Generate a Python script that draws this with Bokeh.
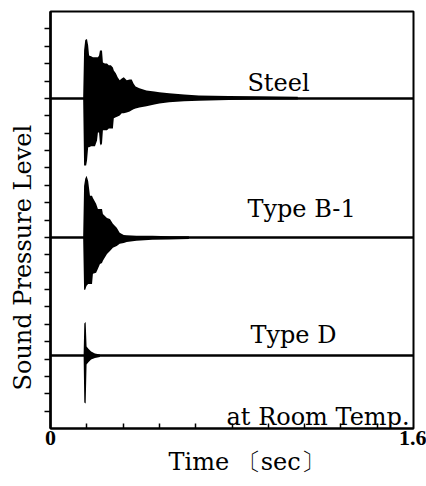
from bokeh.plotting import figure
from bokeh.models import Range1d, FixedTicker, Label, Title
from bokeh.embed import file_html
from bokeh.resources import INLINE

# ---------------- data ----------------
x_start, x_end = 0.0, 1.6
y_start, y_end = 0.0, 24.0
x_tick_values = [0.0, 1.6]
x_tick_labels = ["0", "1.6"]
x_minor_ticks = [0.16, 0.32, 0.48, 0.64, 0.80, 0.96, 1.12, 1.28, 1.44]
y_ticks = [1, 2, 3, 4, 5, 6, 7, 8, 9, 10, 11, 12, 13, 14, 15, 16, 17, 18, 19, 20, 21, 22, 23]

series_names = ["Steel", "Type B-1", "Type D"]
note_text = "at Room Temp."
x_title = "Time 〔sec〕"
y_title = "Sound Pressure Level"

# Steel : envelope of the recorded pressure (time in sec, amplitude in tick units)
steel_t = [0.144, 0.148, 0.153, 0.157, 0.161, 0.166, 0.170, 0.179, 0.187, 0.196,
           0.205, 0.209, 0.214, 0.218, 0.222, 0.227, 0.231, 0.240, 0.249, 0.257,
           0.266, 0.275, 0.279, 0.288, 0.296, 0.305, 0.314, 0.323, 0.336, 0.349,
           0.358, 0.366, 0.375, 0.392, 0.423, 0.458, 0.480, 0.523, 0.589, 0.654,
           0.785, 0.915, 1.090]
steel_upper = [0.06, 2.76, 3.34, 3.40, 3.40, 3.05, 2.47, 2.42, 2.36, 2.36,
               2.36, 2.36, 2.47, 2.76, 2.76, 2.76, 2.07, 2.01, 2.01, 1.90,
               1.90, 1.78, 1.61, 1.44, 1.21, 1.04, 1.15, 1.21, 1.04, 1.09,
               1.09, 0.86, 0.69, 0.58, 0.46, 0.40, 0.35, 0.29, 0.23, 0.17,
               0.14, 0.12, 0.09]
steel_lower = [-0.06, -3.86, -3.86, -3.86, -3.57, -2.82, -2.82, -2.76, -2.76, -2.76,
               -2.42, -1.96, -1.96, -2.59, -2.71, -2.59, -1.84, -1.84, -1.84, -1.73,
               -1.73, -1.73, -1.15, -1.09, -1.04, -0.98, -0.86, -0.86, -0.81, -0.75,
               -0.69, -0.63, -0.58, -0.52, -0.46, -0.35, -0.29, -0.23, -0.17, -0.14,
               -0.09, -0.06, -0.06]

# Type B-1
b1_t = [0.144, 0.148, 0.153, 0.159, 0.166, 0.174, 0.183, 0.187, 0.201, 0.209,
        0.218, 0.227, 0.231, 0.249, 0.262, 0.275, 0.292, 0.305, 0.323, 0.336,
        0.379, 0.449, 0.523, 0.610]
b1_upper = [0.06, 2.96, 3.37, 3.54, 3.25, 2.39, 2.39, 2.27, 1.93, 1.64,
            1.64, 1.64, 1.35, 1.12, 1.06, 0.78, 0.55, 0.26, 0.14, 0.12,
            0.09, 0.09, 0.06, 0.06]
b1_lower = [-0.06, -3.02, -3.02, -2.79, -2.68, -2.68, -2.68, -2.10, -2.04, -1.81,
            -1.53, -1.47, -1.35, -0.95, -0.78, -0.60, -0.49, -0.37, -0.32, -0.26,
            -0.20, -0.14, -0.12, -0.09]

# Type D
d_t = [0.146, 0.149, 0.155, 0.159, 0.166, 0.179, 0.196, 0.218]
d_upper = [0.06, 1.84, 1.93, 0.52, 0.40, 0.23, 0.12, 0.06]
d_lower = [-0.06, -2.71, -2.76, -0.52, -0.40, -0.23, -0.14, -0.09]

# ---------------- layout (axis units) ----------------
baselines = [19.0, 11.0, 4.2]
name_pos = [(0.868, 19.91), (0.868, 12.66), (0.881, 5.41)]
note_pos = (0.776, 0.69)

SERIF = "DejaVu Serif"

p = figure(width=426, height=486,
           x_range=Range1d(x_start, x_end), y_range=Range1d(y_start, y_end),
           output_backend="svg", toolbar_location=None,
           min_border_left=50, min_border_right=13,
           min_border_top=11, min_border_bottom=58)
p.background_fill_color = "white"
p.border_fill_color = "white"
p.grid.visible = False
p.outline_line_color = "black"
p.outline_line_width = 2
p.outline_line_alpha = 1.0

xa = p.xaxis[0]
xa.ticker = FixedTicker(ticks=x_tick_values, minor_ticks=x_minor_ticks)
xa.major_label_overrides = {v: s for v, s in zip(x_tick_values, x_tick_labels)}
xa.major_tick_in = 0
xa.major_tick_out = 0
xa.minor_tick_in = 5
xa.minor_tick_out = 0
xa.minor_tick_line_color = "black"
xa.minor_tick_line_width = 1.5
xa.major_label_text_font = "Liberation Serif"
xa.major_label_text_font_size = "22px"
xa.major_label_text_font_style = "bold"
xa.major_label_text_color = "black"
xa.major_label_standoff = 2
xa.axis_line_width = 2

ya = p.yaxis[0]
ya.ticker = FixedTicker(ticks=[], minor_ticks=y_ticks)
ya.major_tick_in = 0
ya.major_tick_out = 0
ya.minor_tick_in = 0
ya.minor_tick_out = 6
ya.minor_tick_line_color = "black"
ya.minor_tick_line_width = 1.5
ya.major_label_standoff = 0
ya.axis_line_width = 2.5

series = [(steel_t, steel_upper, steel_lower),
          (b1_t, b1_upper, b1_lower),
          (d_t, d_upper, d_lower)]

for (t, up, lo), base in zip(series, baselines):
    p.line(x=[x_start, x_end], y=[base, base], line_color="black", line_width=2.5)
    p.varea(x=t, y1=[base + v for v in lo], y2=[base + v for v in up],
            fill_color="black", fill_alpha=1.0)

for name, (lx, ly) in zip(series_names, name_pos):
    p.add_layout(Label(x=lx, y=ly, text=name, text_font=SERIF,
                       text_font_size="24px", text_color="black",
                       text_align="left", text_baseline="alphabetic"))

p.add_layout(Label(x=note_pos[0], y=note_pos[1], text=note_text, text_font=SERIF,
                   text_font_size="24px", text_color="black",
                   text_align="left", text_baseline="alphabetic"))

# axis titles
p.add_layout(Title(text=x_title, align="left", offset=118, standoff=1,
                   vertical_align="top", text_font=SERIF, text_font_size="24px",
                   text_font_style="normal", text_color="black"), "below")
p.add_layout(Title(text=y_title, align="left", offset=38, standoff=12,
                   vertical_align="top", text_font=SERIF, text_font_size="24px",
                   text_font_style="normal", text_color="black"), "left")

open("out.html", "w").write(file_html(p, INLINE))
